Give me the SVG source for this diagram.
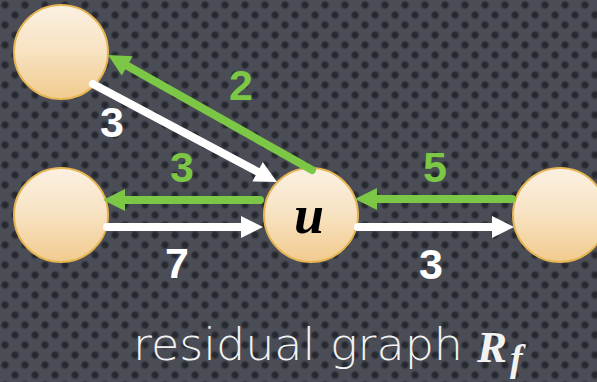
<svg xmlns="http://www.w3.org/2000/svg" width="597" height="382" viewBox="0 0 597 382">
<defs>
<radialGradient id="dotg">
<stop offset="0" stop-color="#23252b"/>
<stop offset="0.5" stop-color="#2a2d33"/>
<stop offset="1" stop-color="#4a4d56" stop-opacity="0"/>
</radialGradient>
<pattern id="bgp" width="20" height="20" patternUnits="userSpaceOnUse">
<rect width="20" height="20" fill="#4a4d56"/>
<circle cx="5" cy="5" r="5.5" fill="url(#dotg)"/>
<circle cx="15" cy="15" r="5.5" fill="url(#dotg)"/>
</pattern>
<linearGradient id="nodeg" x1="0" y1="0" x2="0" y2="1">
<stop offset="0" stop-color="#fbf0e2"/>
<stop offset="0.45" stop-color="#f8e4c5"/>
<stop offset="1" stop-color="#f1cb8e"/>
</linearGradient>
<marker id="ag" markerUnits="userSpaceOnUse" markerWidth="24" markerHeight="24" viewBox="0 -12 24 24" refX="0" refY="0" orient="auto" overflow="visible">
<path d="M0,-11 L22,0 L0,11 Z" fill="#7dc746"/>
</marker>
<marker id="aw" markerUnits="userSpaceOnUse" markerWidth="24" markerHeight="24" viewBox="0 -12 24 24" refX="0" refY="0" orient="auto" overflow="visible">
<path d="M0,-11 L22,0 L0,11 Z" fill="#ffffff"/>
</marker>
<style>
.node{fill:url(#nodeg);stroke:#e6b552;stroke-width:2}
.g{stroke:#7dc746;stroke-width:8;stroke-linecap:round;fill:none;marker-end:url(#ag)}
.w{stroke:#ffffff;stroke-width:8;stroke-linecap:round;fill:none;marker-end:url(#aw)}
.lbl{font-family:"Liberation Sans",Arial,sans-serif;font-weight:bold;font-size:43px;text-anchor:middle}
.lg{fill:#7dc746}
.lw{fill:#ffffff}
.math{font-family:"Liberation Serif","Times New Roman",serif;font-weight:bold;font-style:italic}
</style>
</defs>
<rect width="597" height="382" fill="url(#bgp)"/>
<g id="node-top-left"><circle class="node" cx="61" cy="52" r="47"/></g>
<g id="node-left"><circle class="node" cx="61" cy="215" r="47"/></g>
<g id="node-u"><circle class="node" cx="311" cy="215" r="47"/>
<text class="math" x="309" y="233" font-size="54" text-anchor="middle" fill="#000">u</text></g>
<g id="node-right"><circle class="node" cx="560" cy="215" r="47"/></g>
<g id="connectors">
<path class="g" d="M312,170 L127.2,65.8"/>
<path class="w" d="M93,84 L257.6,171.7"/>
<path class="g" d="M260,200 L125,200"/>
<path class="w" d="M107,227 L241,227"/>
<path class="g" d="M512,199 L377,199"/>
<path class="w" d="M358,227 L492,227"/>
</g>
<g id="labels">
<text class="lbl lw" x="112" y="137">3</text>
<text class="lbl lg" x="241" y="100">2</text>
<text class="lbl lg" x="182" y="182">3</text>
<text class="lbl lw" x="177" y="278">7</text>
<text class="lbl lg" x="435" y="182">5</text>
<text class="lbl lw" x="431" y="279">3</text>
</g>
<g id="caption">
<text x="133" y="360" font-family="DejaVu Sans,sans-serif" font-weight="300" font-size="44" fill="#f2f2f2" textLength="330" lengthAdjust="spacingAndGlyphs">residual graph</text>
<text class="math" x="477" y="362" font-size="45" fill="#f2f2f2">R</text>
<text class="math" x="510" y="371" font-size="38" fill="#f2f2f2">f</text>
</g>
</svg>
